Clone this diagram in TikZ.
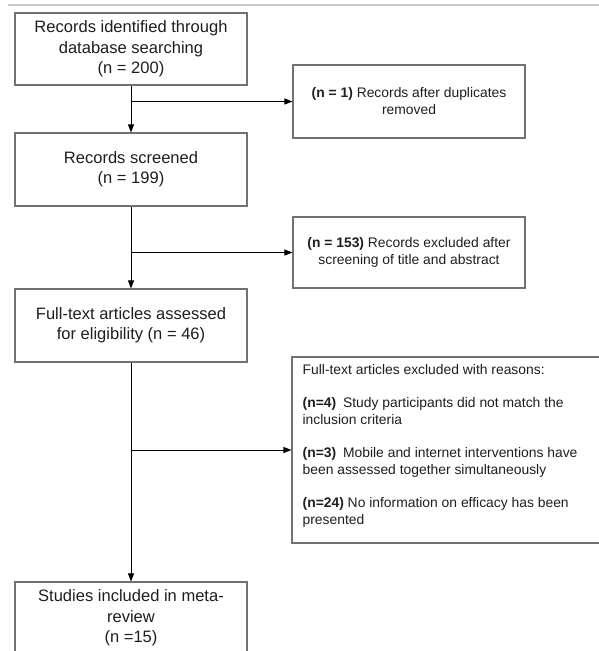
\documentclass[tikz,border=0pt]{standalone}
\usepackage{fontspec}
\setmainfont{Liberation Sans}
\usetikzlibrary{positioning, arrows.meta, calc}
\definecolor{boxline}{HTML}{6E7378}
\definecolor{txt}{HTML}{1E1E1E}
\definecolor{rule}{HTML}{CBC7C3}

\begin{document}
\begin{tikzpicture}[x=0.75pt, y=-0.75pt,
                box/.style={draw=boxline, line width=0.8pt, minimum width=174pt, align=center, inner sep=3pt, text=txt,
                            font=\fontsize{12.4}{15.3}\selectfont},
                side/.style={box, font=\fontsize{10.4}{12.75}\selectfont},
                arr/.style={-{Triangle[length=6pt, width=4.5pt]}, line width=0.75pt},
            ]
            \useasboundingbox (0,0) rectangle (599,651);
            \clip (0,0) rectangle (599,651);

            % Top rule of the page:
            \draw[rule, line width=0.9pt] (8,5) -- (599,5);

            % Main column:
            \node[box, minimum height=54pt] (ident) at (131, 49)    {Records identified through\\database searching\\(n = 200)};
            \node[box, minimum height=54.75pt] (screen) at (131, 169.5) {Records screened\\(n = 199)};
            \node[box, minimum height=54.75pt] (full)   at (131, 325.5) {Full-text articles assessed\\for eligibility (n = 46)};
            \node[box, minimum height=54pt] (incl)  at (131, 618)   {Studies included in meta-\\review\\(n =15)};

            % Side boxes:
            \node[side, minimum height=54.75pt] (dupl) at (409, 101.5) {\textbf{(n = 1)} Records after duplicates\\removed};
            \node[side, minimum height=53.25pt] (excl) at (409, 252.5) {\textbf{(n = 153)} Records excluded after\\screening of title and abstract};
            \node[side, minimum width=240pt, minimum height=139.5pt, inner sep=0pt] (reasons) at (452, 450)
                {\parbox[c][129pt][t]{224pt}{\raggedright
                  Full-text articles excluded with reasons:\\[12pt]
                  \textbf{(n=4)}\enspace Study participants did not match the\\inclusion criteria\\[12pt]
                  \textbf{(n=3)}\enspace Mobile and internet interventions have\\been assessed together simultaneously\\[12pt]
                  \textbf{(n=24)} No information on efficacy has been\\presented}};

            % Flow down the main column:
            \draw[arr] (ident) -- (screen);
            \draw[arr] (screen) -- (full);
            \draw[arr] (full) -- (incl);

            % Branches to the side boxes:
            \coordinate (b1) at (ident.south |- dupl.west);
            \coordinate (b2) at (screen.south |- excl.west);
            \coordinate (b3) at (full.south |- reasons.west);
            \draw[arr] (b1) -- (dupl.west);
            \draw[arr] (b2) -- (excl.west);
            \draw[arr] (b3) -- (reasons.west);
        \end{tikzpicture}
\end{document}
